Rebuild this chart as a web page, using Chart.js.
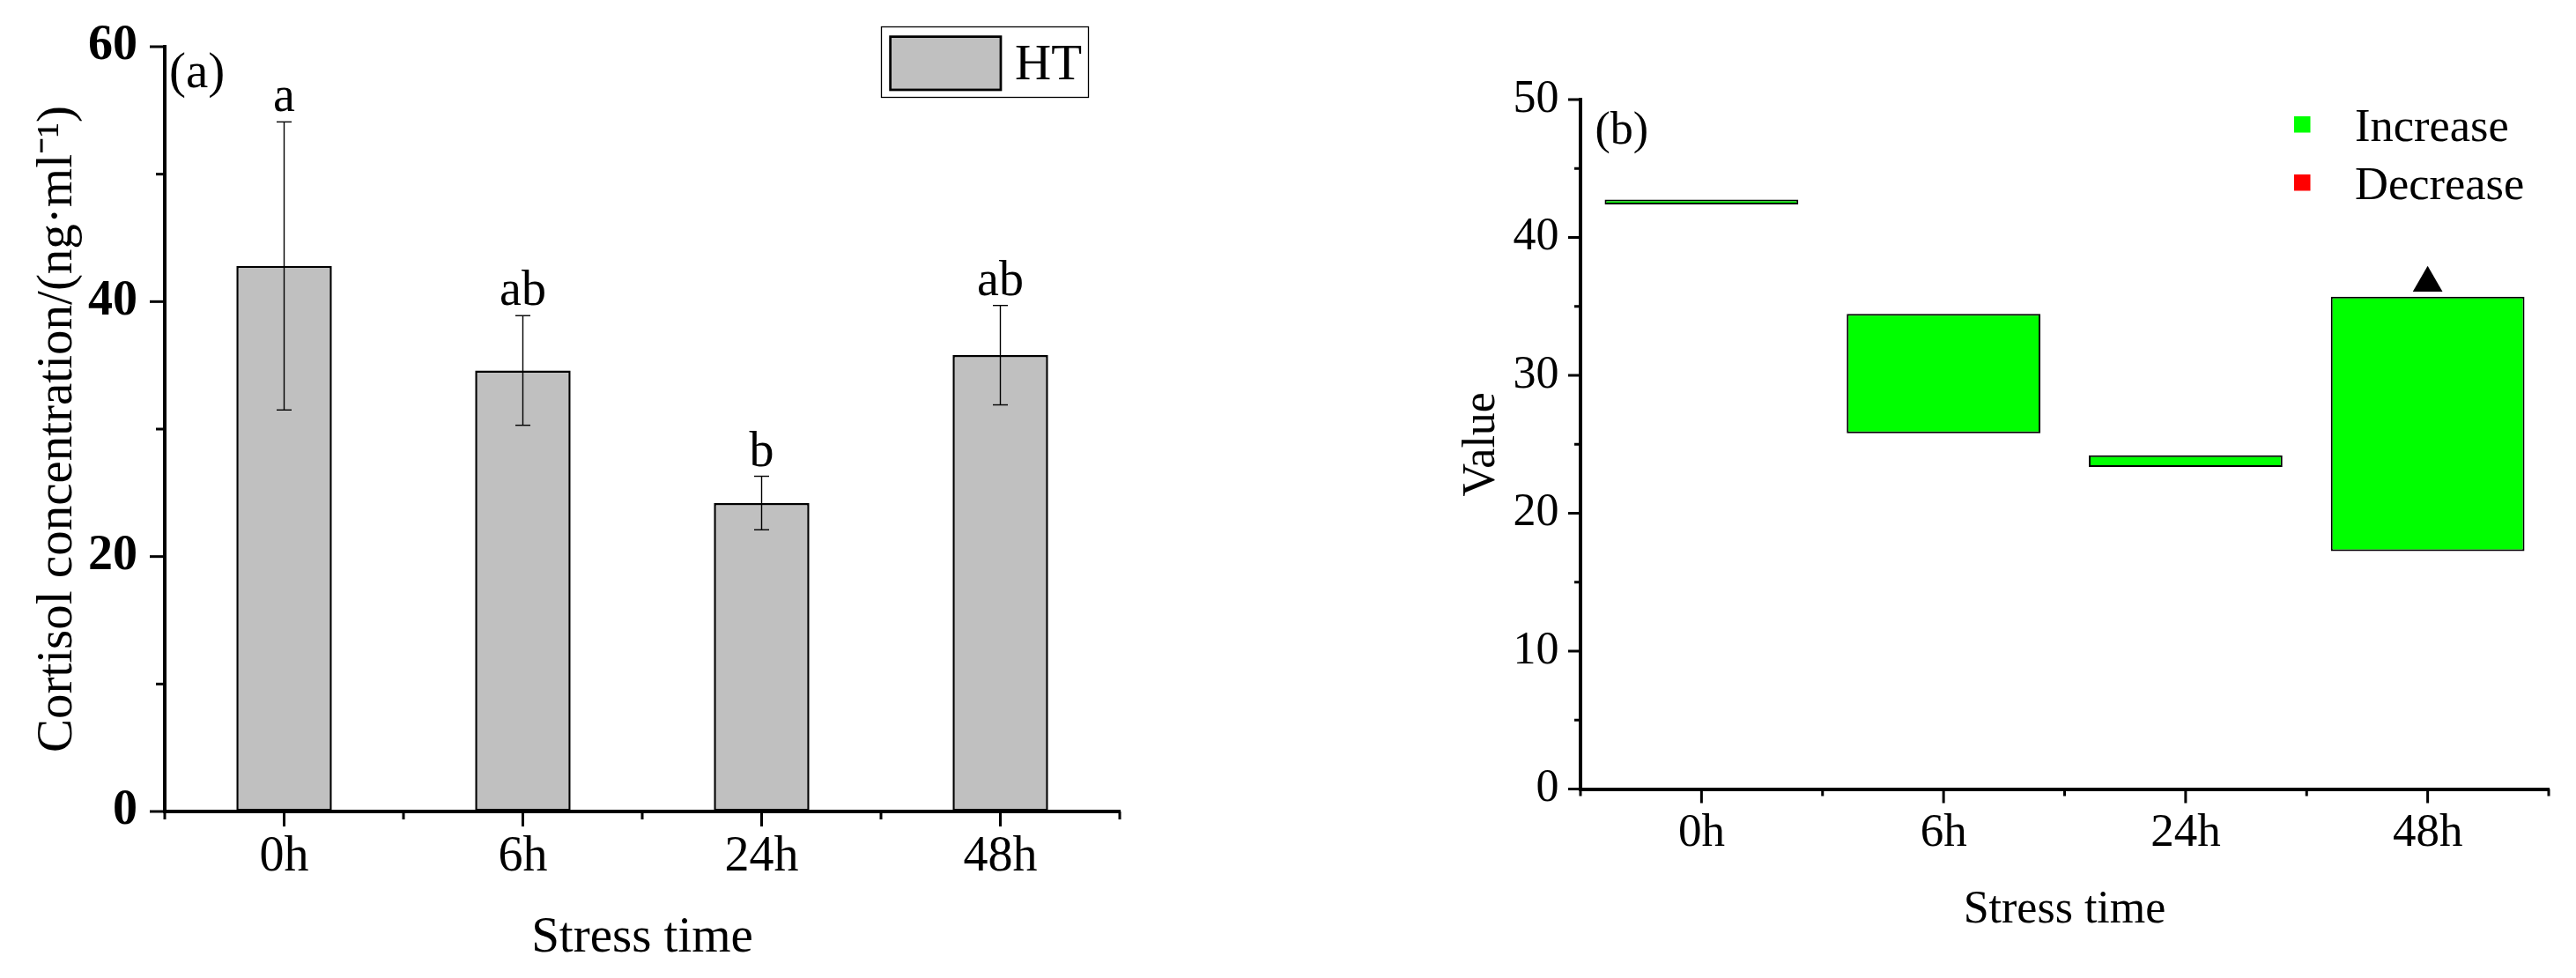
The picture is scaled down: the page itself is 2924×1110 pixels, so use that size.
<!DOCTYPE html>
<html><head><meta charset="utf-8">
<script src="https://cdn.jsdelivr.net/npm/chart.js@4.4.1/dist/chart.umd.min.js"></script>
<style>
html,body{margin:0;padding:0;background:#fff;}
#wrap{position:relative;width:2924px;height:1110px;overflow:hidden;background:#fff}
canvas{position:absolute;top:0}
#ca{left:0}
#cb{left:1462px}
</style></head><body>
<div id="wrap"><canvas id="ca" width="1462" height="1110"></canvas><canvas id="cb" width="1462" height="1110"></canvas></div>
<script>
// ---------- data ----------
const categories = ['0h', '6h', '24h', '48h'];
// panel (a)
const cortisolMean = [42.8, 34.6, 24.2, 35.8];
const cortisolErr = [11.3, 4.3, 2.1, 3.9];
const sigLetters = ['a', 'ab', 'b', 'ab'];
const yTicksA = [0, 20, 40, 60];
const legendA = ['HT'];
// panel (b)
const valueLow = [42.4, 25.8, 23.35, 17.25];
const valueHigh = [42.75, 34.45, 24.2, 35.7];
const markerValue = [null, null, null, 36.7];
const yTicksB = [0, 10, 20, 30, 40, 50];
const legendB = ['Increase', 'Decrease'];
const legendBColors = ['#00FF00', '#FF0000'];

const SERIF = "'Liberation Serif','Times New Roman',serif";
Chart.defaults.font.family = SERIF;
Chart.defaults.color = '#000';

function line(c, x1, y1, x2, y2) { c.beginPath(); c.moveTo(x1, y1); c.lineTo(x2, y2); c.stroke(); }

function axisTicks(o) {
  return {
    id: 'axisTicks',
    afterDraw(chart) {
      const c = chart.ctx, xs = chart.scales.x, ys = chart.scales.y;
      c.save(); c.strokeStyle = '#000'; c.lineWidth = 3; c.lineCap = 'butt';
      const ax = ys.right;
      const tv = ys.ticks.map(t => t.value);
      tv.forEach(v => { const p = ys.getPixelForValue(v); line(c, ax - o.yMaj, p, ax, p); });
      for (let i = 0; i < tv.length - 1; i++) { const p = ys.getPixelForValue((tv[i] + tv[i + 1]) / 2); line(c, ax - o.yMin, p, ax, p); }
      const by = xs.top;
      categories.forEach((cat, i) => { const p = xs.getPixelForValue(i); line(c, p, by, p, by + o.xMaj); });
      for (let i = 0; i <= categories.length; i++) { const p = xs.getPixelForValue(i - 0.5); line(c, p, by, p, by + o.xMin); }
      c.restore();
    }
  };
}

const errorBars = {
  id: 'errorBars',
  afterDatasetsDraw(chart) {
    const c = chart.ctx, xs = chart.scales.x, ys = chart.scales.y;
    c.save(); c.strokeStyle = '#000'; c.lineWidth = 1.4;
    cortisolMean.forEach((m, i) => {
      const x = xs.getPixelForValue(i);
      const yt = ys.getPixelForValue(m + cortisolErr[i]);
      const yb = ys.getPixelForValue(m - cortisolErr[i]);
      line(c, x, yt, x, yb);
      line(c, x - 8.5, yt, x + 8.5, yt);
      line(c, x - 8.5, yb, x + 8.5, yb);
      c.fillStyle = '#000'; c.font = '56px ' + SERIF; c.textAlign = 'center'; c.textBaseline = 'alphabetic';
      c.fillText(sigLetters[i], x, yt - 12);
    });
    c.restore();
  }
};

const decorA = {
  id: 'decorA',
  afterDraw(chart) {
    const c = chart.ctx;
    c.save();
    c.fillStyle = '#000'; c.font = '57px ' + SERIF; c.textAlign = 'left'; c.textBaseline = 'alphabetic';
    c.fillText('(a)', 192, 98.5);
    c.strokeStyle = '#000'; c.lineWidth = 1.3; c.strokeRect(1000.5, 30.5, 235, 80);
    c.fillStyle = '#C0C0C0'; c.fillRect(1009.3, 40.3, 128, 63);
    c.lineWidth = 2.7; c.strokeRect(1010.65, 41.65, 125.3, 60.3);
    c.fillStyle = '#000'; c.font = '57px ' + SERIF;
    c.fillText(legendA[0], 1152, 90);
    c.restore();
  }
};

const decorB = {
  id: 'decorB',
  afterDraw(chart) {
    const c = chart.ctx;
    c.save();
    c.fillStyle = '#000'; c.font = '52px ' + SERIF; c.textAlign = 'left'; c.textBaseline = 'alphabetic';
    c.fillText('(b)', 348.5, 163);
    c.font = '52.5px ' + SERIF;
    legendB.forEach((t, i) => {
      c.fillStyle = legendBColors[i];
      c.fillRect(1142, 132 + i * 66, 18.5, 18.5);
      c.fillStyle = '#000';
      c.fillText(t, 1211, 160 + i * 65.5);
    });
    c.restore();
  }
};

const gridOff = { display: true, drawOnChartArea: false, drawTicks: false };
const border = { display: true, color: '#000', width: 4 };

// ---------- panel (a) ----------
new Chart(document.getElementById('ca'), {
  type: 'bar',
  data: {
    labels: categories,
    datasets: [{
      label: legendA[0], data: cortisolMean,
      backgroundColor: '#C0C0C0', borderColor: '#000', borderWidth: 2.5, borderSkipped: false,
      barPercentage: 0.4, categoryPercentage: 1
    }]
  },
  options: {
    responsive: false, animation: false, devicePixelRatio: 1,
    layout: { padding: { top: 53, right: 191, left: 0, bottom: 0 } },
    plugins: { legend: { display: false }, tooltip: { enabled: false } },
    scales: {
      x: {
        offset: true, grid: gridOff, border: border,
        ticks: { padding: 19, font: { size: 56 }, color: '#000', maxRotation: 0, autoSkip: false },
        title: { display: true, text: 'Stress time', font: { size: 57 }, color: '#000', padding: { top: 0, bottom: 11 } },
        afterFit(s) { s.height = 189; s.paddingLeft = 0; s.paddingRight = 0; }
      },
      y: {
        min: 0, max: 60,
        afterBuildTicks(s) { s.ticks = yTicksA.map(v => ({ value: v })); },
        grid: gridOff, border: border,
        ticks: { padding: 31, font: { size: 56, weight: 'bold' }, color: '#000' },
        title: { display: true, text: 'Cortisol concentration/(ng·ml⁻¹)', font: { size: 57 }, color: '#000', padding: { top: 32, bottom: 0 } },
        afterFit(s) { s.width = 187; s.paddingTop = 0; s.paddingBottom = 0; }
      }
    }
  },
  plugins: [axisTicks({ yMaj: 17, yMin: 10, xMaj: 17, xMin: 9 }), errorBars, decorA]
});

// ---------- panel (b) ----------
new Chart(document.getElementById('cb'), {
  type: 'bar',
  data: {
    labels: categories,
    datasets: [{
      label: legendB[0], data: valueLow.map((l, i) => [l, valueHigh[i]]),
      backgroundColor: legendBColors[0], borderColor: '#000', borderWidth: 2, borderSkipped: false,
      barPercentage: 0.8, categoryPercentage: 1, order: 2
    }, {
      type: 'line', label: 'marker', data: markerValue, showLine: false,
      pointStyle: 'triangle', pointRadius: 19.5, pointBackgroundColor: '#000', pointBorderColor: '#000', pointBorderWidth: 0, order: 1
    }]
  },
  options: {
    responsive: false, animation: false, devicePixelRatio: 1,
    layout: { padding: { top: 113, right: 31, left: 0, bottom: 0 } },
    plugins: { legend: { display: false }, tooltip: { enabled: false } },
    scales: {
      x: {
        offset: true, grid: gridOff, border: border,
        ticks: { padding: 19, font: { size: 53 }, color: '#000', maxRotation: 0, autoSkip: false },
        title: { display: true, text: 'Stress time', font: { size: 52 }, color: '#000', padding: { top: 0, bottom: 45 } },
        afterFit(s) { s.height = 214.5; s.paddingLeft = 0; s.paddingRight = 0; }
      },
      y: {
        min: 0, max: 50,
        afterBuildTicks(s) { s.ticks = yTicksB.map(v => ({ value: v })); },
        grid: gridOff, border: border,
        ticks: { padding: 24.5, font: { size: 52 }, color: '#000' },
        title: { display: true, text: 'Value', font: { size: 52 }, color: '#000', padding: { top: 189, bottom: 0 } },
        afterFit(s) { s.width = 332; s.paddingTop = 0; s.paddingBottom = 0; }
      }
    }
  },
  plugins: [axisTicks({ yMaj: 14, yMin: 7, xMaj: 16, xMin: 8 }), decorB]
});
</script>
</body></html>
